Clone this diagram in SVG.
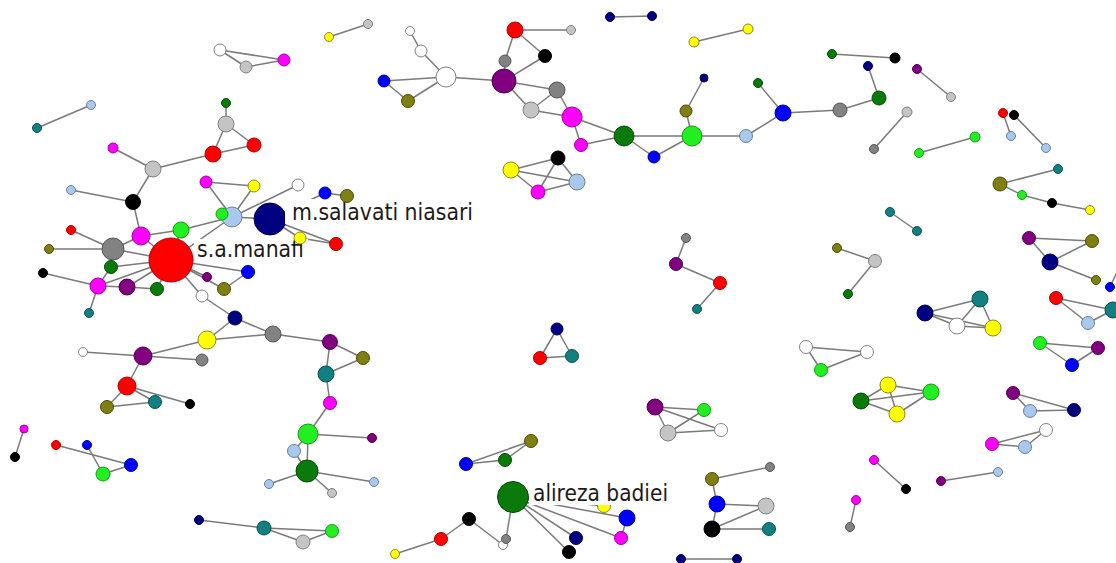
<svg xmlns="http://www.w3.org/2000/svg" width="1116" height="563" viewBox="0 0 1116 563">
<style>
  .bg{fill:#ffffff}
  #edges line{stroke:#7a7a7a;stroke-width:1.5;stroke-linecap:round}
  circle{stroke-width:1}
  .R circle{fill:#ff0000;stroke:#b00000}
  .B circle{fill:#0000ff;stroke:#0000a0}
  .N circle{fill:#000080;stroke:#000050}
  .G circle{fill:#0a7a0a;stroke:#064a06}
  .L circle{fill:#22ee22;stroke:#12a012}
  .Y circle{fill:#ffff00;stroke:#8a8a20}
  .M circle{fill:#ff00ff;stroke:#a000a0}
  .P circle{fill:#800080;stroke:#500050}
  .O circle{fill:#7f7f12;stroke:#4a4a08}
  .T circle{fill:#128080;stroke:#0a5050}
  .A circle{fill:#828282;stroke:#555555}
  .S circle{fill:#c4c4c4;stroke:#808080}
  .LB circle{fill:#a8c8ec;stroke:#6a7f99}
  .K circle{fill:#000000;stroke:#000000}
  .W circle{fill:#ffffff;stroke:#808080}
  .lbl rect{fill:#ffffff}
  .lbl text{font-family:"DejaVu Sans","Liberation Sans",sans-serif;font-size:23px;fill:#1a1a1a}
</style>
<rect class="bg" x="0" y="0" width="1116" height="563"/>

<!-- connectors -->
<g id="edges">
  <line x1="220" y1="50" x2="246" y2="67"/><line x1="220" y1="50" x2="284" y2="60"/><line x1="246" y1="67" x2="284" y2="60"/>
  <line x1="37" y1="128" x2="91" y2="105"/>
  <line x1="329" y1="37" x2="368" y2="24"/>
  <line x1="610" y1="17" x2="652" y2="16"/>
  <line x1="694" y1="42" x2="748" y2="29"/>
  <line x1="832" y1="54" x2="895" y2="58"/>
  <line x1="917" y1="69" x2="951" y2="97"/>
  <line x1="907" y1="112" x2="874" y2="149"/>
  <line x1="919" y1="153" x2="975" y2="137"/>
  <line x1="1003" y1="113" x2="1011" y2="136"/>
  <line x1="1014" y1="115" x2="1046" y2="148"/>
  <line x1="1058" y1="169" x2="1000" y2="184"/><line x1="1000" y1="184" x2="1022" y2="195"/><line x1="1022" y1="195" x2="1052" y2="203"/><line x1="1052" y1="203" x2="1090" y2="210"/>
  <line x1="890" y1="212" x2="917" y2="231"/>
  <line x1="837" y1="248" x2="875" y2="261"/><line x1="875" y1="261" x2="848" y2="294"/>
  <line x1="1029" y1="238" x2="1092" y2="241"/><line x1="1029" y1="238" x2="1050" y2="262"/><line x1="1050" y1="262" x2="1092" y2="241"/><line x1="1050" y1="262" x2="1096" y2="280"/>
  <line x1="1110" y1="287" x2="1118" y2="270"/>
  <line x1="1056" y1="298" x2="1113" y2="310"/><line x1="1056" y1="298" x2="1088" y2="323"/><line x1="1088" y1="323" x2="1113" y2="310"/>
  <line x1="925" y1="313" x2="980" y2="299"/><line x1="925" y1="313" x2="957" y2="326"/><line x1="925" y1="313" x2="993" y2="328"/><line x1="957" y1="326" x2="980" y2="299"/><line x1="957" y1="326" x2="993" y2="328"/><line x1="980" y1="299" x2="993" y2="328"/>
  <line x1="1040" y1="343" x2="1098" y2="348"/><line x1="1040" y1="343" x2="1072" y2="365"/><line x1="1072" y1="365" x2="1098" y2="348"/>
  <line x1="806" y1="347" x2="867" y2="352"/><line x1="806" y1="347" x2="821" y2="370"/><line x1="821" y1="370" x2="867" y2="352"/>
  <line x1="686" y1="238" x2="676" y2="264"/><line x1="676" y1="264" x2="720" y2="283"/><line x1="720" y1="283" x2="697" y2="309"/>
  <line x1="557" y1="329" x2="540" y2="358"/><line x1="557" y1="329" x2="572" y2="356"/><line x1="540" y1="358" x2="572" y2="356"/>
  <line x1="511" y1="170" x2="558" y2="158"/><line x1="511" y1="170" x2="538" y2="192"/><line x1="511" y1="170" x2="577" y2="182"/><line x1="558" y1="158" x2="538" y2="192"/><line x1="558" y1="158" x2="577" y2="182"/><line x1="538" y1="192" x2="577" y2="182"/>
  <!-- upper middle chain -->
  <line x1="410" y1="31" x2="421" y2="51"/><line x1="421" y1="51" x2="446" y2="77"/><line x1="384" y1="81" x2="446" y2="77"/><line x1="408" y1="101" x2="446" y2="77"/><line x1="384" y1="81" x2="408" y2="101"/>
  <line x1="446" y1="77" x2="504" y2="81"/><line x1="515" y1="30" x2="505" y2="61"/><line x1="515" y1="30" x2="545" y2="56"/><line x1="515" y1="30" x2="571" y2="30"/>
  <line x1="505" y1="61" x2="504" y2="81"/><line x1="545" y1="56" x2="504" y2="81"/><line x1="504" y1="81" x2="557" y2="90"/><line x1="504" y1="81" x2="531" y2="110"/><line x1="531" y1="110" x2="557" y2="90"/>
  <line x1="557" y1="90" x2="572" y2="117"/><line x1="531" y1="110" x2="572" y2="117"/><line x1="572" y1="117" x2="581" y2="145"/><line x1="572" y1="117" x2="624" y2="136"/><line x1="581" y1="145" x2="624" y2="136"/>
  <line x1="624" y1="136" x2="692" y2="136"/><line x1="624" y1="136" x2="654" y2="157"/><line x1="654" y1="157" x2="692" y2="136"/><line x1="692" y1="136" x2="686" y2="111"/><line x1="686" y1="111" x2="704" y2="78"/>
  <line x1="692" y1="136" x2="746" y2="136"/><line x1="746" y1="136" x2="783" y2="113"/><line x1="783" y1="113" x2="758" y2="83"/><line x1="783" y1="113" x2="840" y2="110"/><line x1="840" y1="110" x2="879" y2="98"/><line x1="879" y1="98" x2="868" y2="66"/>
  <!-- left cluster -->
  <line x1="226" y1="103" x2="226" y2="124"/><line x1="226" y1="124" x2="213" y2="154"/><line x1="226" y1="124" x2="254" y2="145"/><line x1="213" y1="154" x2="254" y2="145"/><line x1="213" y1="154" x2="153" y2="169"/>
  <line x1="153" y1="169" x2="113" y2="148"/><line x1="153" y1="169" x2="133" y2="202"/><line x1="133" y1="202" x2="71" y2="190"/><line x1="133" y1="202" x2="141" y2="236"/>
  <line x1="141" y1="236" x2="181" y2="230"/><line x1="141" y1="236" x2="171" y2="260"/><line x1="141" y1="236" x2="113" y2="249"/><line x1="181" y1="230" x2="232" y2="217"/><line x1="181" y1="230" x2="171" y2="260"/>
  <line x1="206" y1="182" x2="254" y2="186"/><line x1="206" y1="182" x2="232" y2="217"/><line x1="254" y1="186" x2="232" y2="217"/><line x1="298" y1="185" x2="232" y2="217"/>
  <line x1="232" y1="217" x2="270" y2="219"/><line x1="270" y1="219" x2="325" y2="193"/><line x1="325" y1="193" x2="347" y2="196"/><line x1="270" y1="219" x2="300" y2="238"/><line x1="270" y1="219" x2="336" y2="244"/><line x1="300" y1="238" x2="336" y2="244"/><line x1="232" y1="217" x2="171" y2="260"/>
  <line x1="113" y1="249" x2="71" y2="230"/><line x1="113" y1="249" x2="49" y2="249"/><line x1="113" y1="249" x2="171" y2="260"/><line x1="111" y1="267" x2="171" y2="260"/><line x1="98" y1="286" x2="111" y2="267"/>
  <line x1="43" y1="273" x2="98" y2="286"/><line x1="98" y1="286" x2="171" y2="260"/><line x1="98" y1="286" x2="127" y2="287"/><line x1="98" y1="286" x2="89" y2="313"/><line x1="127" y1="287" x2="157" y2="289"/><line x1="127" y1="287" x2="171" y2="260"/><line x1="157" y1="289" x2="171" y2="260"/>
  <line x1="207" y1="277" x2="171" y2="260"/><line x1="224" y1="289" x2="171" y2="260"/><line x1="224" y1="289" x2="248" y2="272"/><line x1="248" y1="272" x2="171" y2="260"/><line x1="202" y1="296" x2="171" y2="260"/>
  <line x1="202" y1="296" x2="235" y2="318"/><line x1="235" y1="318" x2="207" y2="340"/><line x1="235" y1="318" x2="273" y2="334"/><line x1="207" y1="340" x2="273" y2="334"/><line x1="207" y1="340" x2="143" y2="356"/>
  <line x1="143" y1="356" x2="83" y2="352"/><line x1="143" y1="356" x2="202" y2="360"/><line x1="143" y1="356" x2="127" y2="386"/><line x1="127" y1="386" x2="107" y2="407"/><line x1="127" y1="386" x2="155" y2="402"/><line x1="107" y1="407" x2="155" y2="402"/><line x1="127" y1="386" x2="190" y2="404"/>
  <line x1="273" y1="334" x2="330" y2="342"/><line x1="330" y1="342" x2="363" y2="358"/><line x1="330" y1="342" x2="326" y2="374"/><line x1="363" y1="358" x2="326" y2="374"/><line x1="326" y1="374" x2="330" y2="403"/><line x1="330" y1="403" x2="308" y2="434"/>
  <line x1="308" y1="434" x2="372" y2="438"/><line x1="308" y1="434" x2="294" y2="451"/><line x1="308" y1="434" x2="307" y2="471"/><line x1="294" y1="451" x2="307" y2="471"/><line x1="307" y1="471" x2="374" y2="482"/><line x1="307" y1="471" x2="332" y2="493"/><line x1="307" y1="471" x2="269" y2="484"/>
  <!-- lower left -->
  <line x1="24" y1="429" x2="15" y2="457"/>
  <line x1="56" y1="445" x2="131" y2="465"/><line x1="87" y1="445" x2="103" y2="474"/><line x1="103" y1="474" x2="131" y2="465"/>
  <line x1="199" y1="520" x2="264" y2="528"/><line x1="264" y1="528" x2="332" y2="531"/><line x1="264" y1="528" x2="303" y2="542"/><line x1="303" y1="542" x2="332" y2="531"/>
  <!-- lower middle -->
  <line x1="466" y1="464" x2="531" y2="441"/><line x1="466" y1="464" x2="505" y2="460"/><line x1="505" y1="460" x2="531" y2="441"/>
  <line x1="513" y1="497" x2="604" y2="506"/><line x1="513" y1="497" x2="627" y2="518"/><line x1="513" y1="497" x2="621" y2="538"/><line x1="513" y1="497" x2="576" y2="538"/><line x1="513" y1="497" x2="569" y2="552"/><line x1="513" y1="497" x2="506" y2="539"/><line x1="627" y1="518" x2="621" y2="538"/>
  <line x1="395" y1="554" x2="441" y2="539"/><line x1="441" y1="539" x2="469" y2="519"/><line x1="469" y1="519" x2="503" y2="545"/>
  <line x1="655" y1="407" x2="704" y2="410"/><line x1="655" y1="407" x2="721" y2="430"/><line x1="655" y1="407" x2="668" y2="433"/><line x1="668" y1="433" x2="704" y2="410"/><line x1="668" y1="433" x2="721" y2="430"/>
  <line x1="712" y1="479" x2="770" y2="467"/><line x1="712" y1="479" x2="717" y2="504"/><line x1="717" y1="504" x2="766" y2="506"/><line x1="717" y1="504" x2="712" y2="529"/><line x1="712" y1="529" x2="766" y2="506"/><line x1="712" y1="529" x2="769" y2="529"/>
  <line x1="681" y1="559" x2="737" y2="559"/>
  <!-- lower right -->
  <line x1="861" y1="401" x2="888" y2="385"/><line x1="861" y1="401" x2="931" y2="392"/><line x1="861" y1="401" x2="897" y2="414"/><line x1="888" y1="385" x2="931" y2="392"/><line x1="888" y1="385" x2="897" y2="414"/><line x1="897" y1="414" x2="931" y2="392"/>
  <line x1="1013" y1="393" x2="1074" y2="410"/><line x1="1013" y1="393" x2="1030" y2="411"/><line x1="1030" y1="411" x2="1074" y2="410"/>
  <line x1="992" y1="444" x2="1046" y2="430"/><line x1="992" y1="444" x2="1025" y2="447"/><line x1="1025" y1="447" x2="1046" y2="430"/>
  <line x1="874" y1="460" x2="906" y2="489"/><line x1="941" y1="481" x2="998" y2="472"/><line x1="856" y1="500" x2="850" y2="527"/>
</g>

<!-- nodes -->
<g id="nodes">
  <g id="a1" class="W"><circle cx="220" cy="50" r="6"/></g>
  <g id="a2" class="S"><circle cx="246" cy="67" r="6"/></g>
  <g id="a3" class="M"><circle cx="284" cy="60" r="6"/></g>
  <g id="b1" class="T"><circle cx="37" cy="128" r="4.5"/></g>
  <g id="b2" class="LB"><circle cx="91" cy="105" r="4.5"/></g>
  <g id="c1" class="Y"><circle cx="329" cy="37" r="4.5"/></g>
  <g id="c2" class="S"><circle cx="368" cy="24" r="4.5"/></g>
  <g id="d1" class="N"><circle cx="610" cy="17" r="4.5"/></g>
  <g id="d2" class="N"><circle cx="652" cy="16" r="4.5"/></g>
  <g id="e1" class="Y"><circle cx="694" cy="42" r="5"/></g>
  <g id="e2" class="Y"><circle cx="748" cy="29" r="5"/></g>
  <g id="f1" class="G"><circle cx="832" cy="54" r="4.5"/></g>
  <g id="f2" class="K"><circle cx="895" cy="58" r="5"/></g>
  <g id="g1" class="P"><circle cx="917" cy="69" r="4.5"/></g>
  <g id="g2" class="S"><circle cx="951" cy="97" r="4.5"/></g>
  <g id="h1" class="S"><circle cx="907" cy="112" r="5"/></g>
  <g id="h2" class="A"><circle cx="874" cy="149" r="4.5"/></g>
  <g id="i1" class="L"><circle cx="919" cy="153" r="4.5"/></g>
  <g id="i2" class="L"><circle cx="975" cy="137" r="5"/></g>
  <g id="j1" class="R"><circle cx="1003" cy="113" r="4.5"/></g>
  <g id="j2" class="LB"><circle cx="1011" cy="136" r="4.5"/></g>
  <g id="k1" class="K"><circle cx="1014" cy="115" r="4.5"/></g>
  <g id="k2" class="LB"><circle cx="1046" cy="148" r="4.5"/></g>
  <g id="l1" class="T"><circle cx="1058" cy="169" r="4.5"/></g>
  <g id="l2" class="O"><circle cx="1000" cy="184" r="7"/></g>
  <g id="l3" class="L"><circle cx="1022" cy="195" r="4.5"/></g>
  <g id="l4" class="K"><circle cx="1052" cy="203" r="4.5"/></g>
  <g id="l5" class="Y"><circle cx="1090" cy="210" r="4.5"/></g>
  <g id="m1" class="T"><circle cx="890" cy="212" r="4.5"/></g>
  <g id="m2" class="T"><circle cx="917" cy="231" r="4.5"/></g>
  <g id="n1" class="O"><circle cx="837" cy="248" r="4.5"/></g>
  <g id="n2" class="S"><circle cx="875" cy="261" r="6.5"/></g>
  <g id="n3" class="G"><circle cx="848" cy="294" r="4.5"/></g>
  <g id="o1" class="P"><circle cx="1029" cy="238" r="6.5"/></g>
  <g id="o2" class="O"><circle cx="1092" cy="241" r="6.5"/></g>
  <g id="o3" class="N"><circle cx="1050" cy="262" r="8"/></g>
  <g id="o4" class="O"><circle cx="1096" cy="280" r="4.5"/></g>
  <g id="p1" class="B"><circle cx="1110" cy="287" r="4.5"/></g>
  <g id="q1" class="R"><circle cx="1056" cy="298" r="6.5"/></g>
  <g id="q2" class="T"><circle cx="1113" cy="310" r="8"/></g>
  <g id="q3" class="LB"><circle cx="1088" cy="323" r="6.5"/></g>
  <g id="r1" class="N"><circle cx="925" cy="313" r="8"/></g>
  <g id="r2" class="T"><circle cx="980" cy="299" r="8"/></g>
  <g id="r3" class="W"><circle cx="957" cy="326" r="8"/></g>
  <g id="r4" class="Y"><circle cx="993" cy="328" r="8"/></g>
  <g id="s1" class="L"><circle cx="1040" cy="343" r="6.5"/></g>
  <g id="s2" class="P"><circle cx="1098" cy="348" r="6.5"/></g>
  <g id="s3" class="B"><circle cx="1072" cy="365" r="6.5"/></g>
  <g id="t1" class="W"><circle cx="806" cy="347" r="6.5"/></g>
  <g id="t2" class="W"><circle cx="867" cy="352" r="6.5"/></g>
  <g id="t3" class="L"><circle cx="821" cy="370" r="6.5"/></g>
  <g id="u1" class="A"><circle cx="686" cy="238" r="4.5"/></g>
  <g id="u2" class="P"><circle cx="676" cy="264" r="6.5"/></g>
  <g id="u3" class="R"><circle cx="720" cy="283" r="6.5"/></g>
  <g id="u4" class="T"><circle cx="697" cy="309" r="4.5"/></g>
  <g id="v1" class="N"><circle cx="557" cy="329" r="6"/></g>
  <g id="v2" class="R"><circle cx="540" cy="358" r="6.5"/></g>
  <g id="v3" class="T"><circle cx="572" cy="356" r="6.5"/></g>
  <g id="w1" class="Y"><circle cx="511" cy="170" r="8"/></g>
  <g id="w2" class="K"><circle cx="558" cy="158" r="7"/></g>
  <g id="w3" class="M"><circle cx="538" cy="192" r="7"/></g>
  <g id="w4" class="LB"><circle cx="577" cy="182" r="8"/></g>

  <g id="x1" class="W"><circle cx="410" cy="31" r="4.5"/></g>
  <g id="x2" class="W"><circle cx="421" cy="51" r="6"/></g>
  <g id="x3" class="W"><circle cx="446" cy="77" r="10"/></g>
  <g id="x4" class="B"><circle cx="384" cy="81" r="6"/></g>
  <g id="x5" class="O"><circle cx="408" cy="101" r="6.5"/></g>
  <g id="x6" class="P"><circle cx="504" cy="81" r="12"/></g>
  <g id="x7" class="R"><circle cx="515" cy="30" r="8"/></g>
  <g id="x8" class="A"><circle cx="505" cy="61" r="6"/></g>
  <g id="x9" class="K"><circle cx="545" cy="56" r="6.5"/></g>
  <g id="x10" class="S"><circle cx="571" cy="30" r="4.5"/></g>
  <g id="x11" class="A"><circle cx="557" cy="90" r="8"/></g>
  <g id="x12" class="S"><circle cx="531" cy="110" r="8"/></g>
  <g id="x13" class="M"><circle cx="572" cy="117" r="10"/></g>
  <g id="x14" class="M"><circle cx="581" cy="145" r="6.5"/></g>
  <g id="x15" class="G"><circle cx="624" cy="136" r="10"/></g>
  <g id="x16" class="B"><circle cx="654" cy="157" r="6"/></g>
  <g id="x17" class="L"><circle cx="692" cy="136" r="10"/></g>
  <g id="x18" class="O"><circle cx="686" cy="111" r="6"/></g>
  <g id="x19" class="N"><circle cx="704" cy="78" r="4"/></g>
  <g id="x20" class="LB"><circle cx="746" cy="136" r="6.5"/></g>
  <g id="x21" class="B"><circle cx="783" cy="113" r="8"/></g>
  <g id="x22" class="G"><circle cx="758" cy="83" r="4.5"/></g>
  <g id="x23" class="A"><circle cx="840" cy="110" r="7"/></g>
  <g id="x24" class="G"><circle cx="879" cy="98" r="7"/></g>
  <g id="x25" class="N"><circle cx="868" cy="66" r="4.5"/></g>

  <g id="y1" class="G"><circle cx="226" cy="103" r="4.5"/></g>
  <g id="y2" class="S"><circle cx="226" cy="124" r="8"/></g>
  <g id="y3" class="R"><circle cx="213" cy="154" r="8"/></g>
  <g id="y4" class="R"><circle cx="254" cy="145" r="7"/></g>
  <g id="y5" class="S"><circle cx="153" cy="169" r="8"/></g>
  <g id="y6" class="M"><circle cx="113" cy="148" r="5"/></g>
  <g id="y7" class="K"><circle cx="133" cy="202" r="7.5"/></g>
  <g id="y8" class="LB"><circle cx="71" cy="190" r="4.5"/></g>
  <g id="y9" class="M"><circle cx="141" cy="236" r="9"/></g>
  <g id="y10" class="L"><circle cx="181" cy="230" r="8"/></g>
  <g id="y14" class="M"><circle cx="206" cy="182" r="6"/></g>
  <g id="y15" class="Y"><circle cx="254" cy="186" r="6"/></g>
  <g id="y16" class="W"><circle cx="298" cy="185" r="6"/></g>
  <g id="y11" class="LB"><circle cx="232" cy="217" r="10"/></g>
  <g id="y12" class="L"><circle cx="222" cy="214" r="6"/></g>
  <g id="y22" class="R"><circle cx="71" cy="230" r="4.5"/></g>
  <g id="y23" class="O"><circle cx="49" cy="249" r="4.5"/></g>
  <g id="y24" class="A"><circle cx="113" cy="249" r="11"/></g>
  <g id="y25" class="G"><circle cx="111" cy="267" r="6.5"/></g>
  <g id="y26" class="K"><circle cx="43" cy="273" r="4.5"/></g>
  <g id="y27" class="M"><circle cx="98" cy="286" r="8"/></g>
  <g id="y28" class="P"><circle cx="127" cy="287" r="8"/></g>
  <g id="y29" class="G"><circle cx="157" cy="289" r="6.5"/></g>
  <g id="y30" class="P"><circle cx="207" cy="277" r="4.5"/></g>
  <g id="y31" class="O"><circle cx="224" cy="289" r="6.5"/></g>
  <g id="y32" class="B"><circle cx="248" cy="272" r="6.5"/></g>
  <g id="y33" class="W"><circle cx="202" cy="296" r="6"/></g>
  <g id="y34" class="T"><circle cx="89" cy="313" r="4.5"/></g>
  <g id="y35" class="N"><circle cx="235" cy="318" r="7"/></g>
  <g id="y36" class="Y"><circle cx="207" cy="340" r="9"/></g>
  <g id="y37" class="A"><circle cx="273" cy="334" r="8"/></g>
  <g id="y38" class="P"><circle cx="143" cy="356" r="9"/></g>
  <g id="y39" class="W"><circle cx="83" cy="352" r="4.5"/></g>
  <g id="y40" class="A"><circle cx="202" cy="360" r="6"/></g>
  <g id="y41" class="R"><circle cx="127" cy="386" r="9"/></g>
  <g id="y42" class="O"><circle cx="107" cy="407" r="6.5"/></g>
  <g id="y43" class="T"><circle cx="155" cy="402" r="6.5"/></g>
  <g id="y44" class="K"><circle cx="190" cy="404" r="4.5"/></g>
  <g id="y45" class="P"><circle cx="330" cy="342" r="7.5"/></g>
  <g id="y46" class="O"><circle cx="363" cy="358" r="6.5"/></g>
  <g id="y47" class="T"><circle cx="326" cy="374" r="8"/></g>
  <g id="y48" class="M"><circle cx="330" cy="403" r="6.5"/></g>
  <g id="y49" class="L"><circle cx="308" cy="434" r="10"/></g>
  <g id="y50" class="P"><circle cx="372" cy="438" r="4.5"/></g>
  <g id="y51" class="LB"><circle cx="294" cy="451" r="6.5"/></g>
  <g id="y52" class="G"><circle cx="307" cy="471" r="11"/></g>
  <g id="y53" class="LB"><circle cx="374" cy="482" r="4.5"/></g>
  <g id="y54" class="S"><circle cx="332" cy="493" r="4.5"/></g>
  <g id="y55" class="LB"><circle cx="269" cy="484" r="4.5"/></g>

  <g id="y21" class="R lbl"><circle cx="171" cy="260" r="22"/>
    <rect x="194" y="239" width="114" height="23"/>
    <text x="197" y="257" textLength="107" lengthAdjust="spacingAndGlyphs">s.a.manafi</text></g>
  <g id="y13" class="N lbl"><circle cx="270" cy="219" r="16"/>
    <rect x="285" y="199" width="192" height="25"/>
    <text x="292" y="220" textLength="181" lengthAdjust="spacingAndGlyphs">m.salavati niasari</text></g>
  <g id="y17" class="B"><circle cx="325" cy="193" r="6"/></g>
  <g id="y18" class="O"><circle cx="347" cy="196" r="6.5"/></g>
  <g id="y19" class="Y"><circle cx="300" cy="238" r="6"/></g>
  <g id="y20" class="R"><circle cx="336" cy="244" r="6.5"/></g>

  <g id="z1" class="M"><circle cx="24" cy="429" r="4"/></g>
  <g id="z2" class="K"><circle cx="15" cy="457" r="4.5"/></g>
  <g id="z3" class="R"><circle cx="56" cy="445" r="4.5"/></g>
  <g id="z4" class="B"><circle cx="87" cy="445" r="4.5"/></g>
  <g id="z5" class="B"><circle cx="131" cy="465" r="6.5"/></g>
  <g id="z6" class="L"><circle cx="103" cy="474" r="7"/></g>
  <g id="z7" class="N"><circle cx="199" cy="520" r="4.5"/></g>
  <g id="z8" class="T"><circle cx="264" cy="528" r="7"/></g>
  <g id="z9" class="S"><circle cx="303" cy="542" r="7"/></g>
  <g id="z10" class="L"><circle cx="332" cy="531" r="6.5"/></g>

  <g id="aa1" class="B"><circle cx="466" cy="464" r="6.5"/></g>
  <g id="aa2" class="G"><circle cx="505" cy="460" r="6.5"/></g>
  <g id="aa3" class="O"><circle cx="531" cy="441" r="6.5"/></g>
  <g id="aa5" class="Y"><circle cx="604" cy="506" r="6.5"/></g>
  <g id="aa4" class="G lbl"><circle cx="513" cy="497" r="15.5"/>
    <rect x="529" y="481" width="142" height="24"/>
    <text x="533" y="501" textLength="135" lengthAdjust="spacingAndGlyphs">alireza badiei</text></g>
  <g id="aa6" class="B"><circle cx="627" cy="518" r="8"/></g>
  <g id="aa7" class="M"><circle cx="621" cy="538" r="6.5"/></g>
  <g id="aa8" class="N"><circle cx="576" cy="538" r="6.5"/></g>
  <g id="aa9" class="K"><circle cx="569" cy="552" r="6.5"/></g>
  <g id="aa11" class="W"><circle cx="503" cy="545" r="4.5"/></g>
  <g id="aa10" class="A"><circle cx="506" cy="539" r="4.5"/></g>
  <g id="aa12" class="K"><circle cx="469" cy="519" r="6.5"/></g>
  <g id="aa13" class="R"><circle cx="441" cy="539" r="6.5"/></g>
  <g id="aa14" class="Y"><circle cx="395" cy="554" r="4.5"/></g>

  <g id="bb1" class="P"><circle cx="655" cy="407" r="8"/></g>
  <g id="bb2" class="L"><circle cx="704" cy="410" r="6.5"/></g>
  <g id="bb3" class="S"><circle cx="668" cy="433" r="8"/></g>
  <g id="bb4" class="W"><circle cx="721" cy="430" r="6.5"/></g>
  <g id="bb5" class="O"><circle cx="712" cy="479" r="6.5"/></g>
  <g id="bb6" class="A"><circle cx="770" cy="467" r="4.5"/></g>
  <g id="bb7" class="B"><circle cx="717" cy="504" r="8"/></g>
  <g id="bb8" class="S"><circle cx="766" cy="506" r="8"/></g>
  <g id="bb9" class="K"><circle cx="712" cy="529" r="8"/></g>
  <g id="bb10" class="T"><circle cx="769" cy="529" r="6.5"/></g>
  <g id="bb11" class="N"><circle cx="681" cy="559" r="4.5"/></g>
  <g id="bb12" class="N"><circle cx="737" cy="559" r="4.5"/></g>

  <g id="cc1" class="Y"><circle cx="888" cy="385" r="8"/></g>
  <g id="cc2" class="L"><circle cx="931" cy="392" r="8"/></g>
  <g id="cc3" class="G"><circle cx="861" cy="401" r="8"/></g>
  <g id="cc4" class="Y"><circle cx="897" cy="414" r="8"/></g>
  <g id="cc5" class="P"><circle cx="1013" cy="393" r="6.5"/></g>
  <g id="cc6" class="LB"><circle cx="1030" cy="411" r="6.5"/></g>
  <g id="cc7" class="N"><circle cx="1074" cy="410" r="6.5"/></g>
  <g id="cc8" class="W"><circle cx="1046" cy="430" r="6.5"/></g>
  <g id="cc9" class="M"><circle cx="992" cy="444" r="6.5"/></g>
  <g id="cc10" class="LB"><circle cx="1025" cy="447" r="6.5"/></g>
  <g id="cc11" class="M"><circle cx="874" cy="460" r="4.5"/></g>
  <g id="cc12" class="K"><circle cx="906" cy="489" r="4.5"/></g>
  <g id="cc13" class="P"><circle cx="941" cy="481" r="4.5"/></g>
  <g id="cc14" class="LB"><circle cx="998" cy="472" r="4.5"/></g>
  <g id="cc15" class="M"><circle cx="856" cy="500" r="4.5"/></g>
  <g id="cc16" class="A"><circle cx="850" cy="527" r="4.5"/></g>
</g>
</svg>
